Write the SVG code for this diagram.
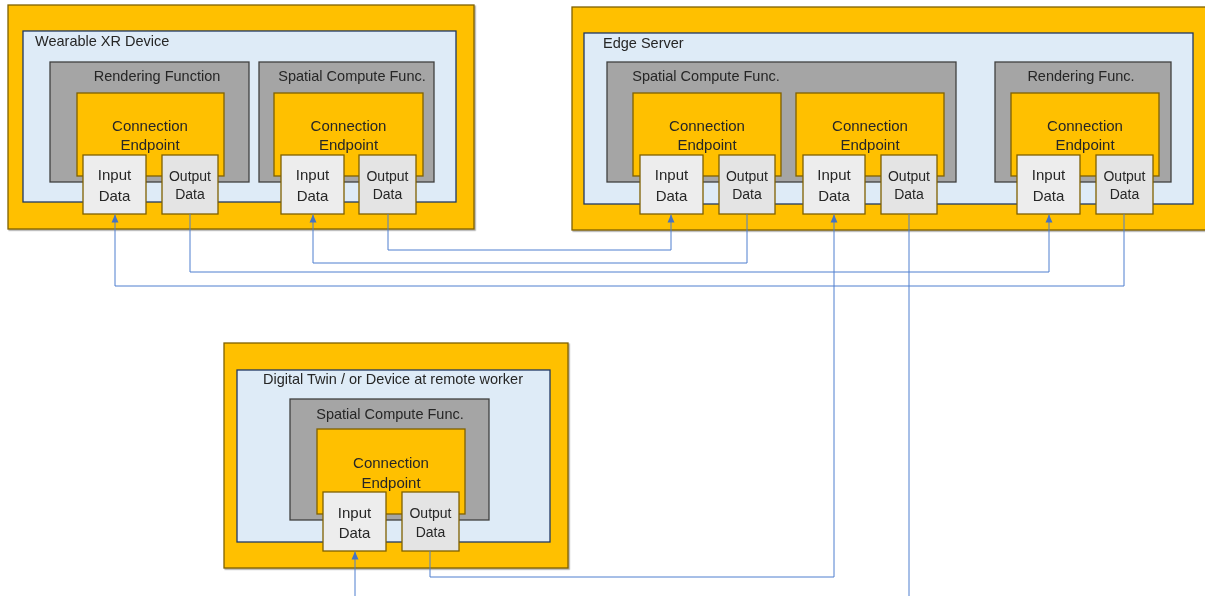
<svg xmlns="http://www.w3.org/2000/svg" width="1205" height="596" viewBox="0 0 1205 596">
<style>
text{font-family:"Liberation Sans",Arial,sans-serif;fill:#262626}
.outer{fill:#FFC000;stroke:#7F6000;stroke-width:1.3}
.dev{fill:#DEEBF7;stroke:#1F3864;stroke-width:1.3}
.func{fill:#A5A5A5;stroke:#404040;stroke-width:1.3}
.ce{fill:#FFC000;stroke:#7F6000;stroke-width:1.3}
.in{fill:#EDEDED;stroke:#7F6000;stroke-width:1.3}
.out{fill:#E4E4E4;stroke:#7F6000;stroke-width:1.3}
.t{font-size:14.5px}
.c{font-size:15px;text-anchor:middle}
.i{font-size:15px;text-anchor:middle}
.o{font-size:14px;text-anchor:middle}
.ln{fill:none;stroke:#4F7FCF;stroke-width:1}
</style>
<defs>
<filter id="sh" x="-5%" y="-5%" width="110%" height="110%">
<feDropShadow dx="1.2" dy="1.2" stdDeviation="0.4" flood-color="#000" flood-opacity="0.35"/>
</filter>
<marker id="arr" markerWidth="8" markerHeight="8" viewBox="0 0 8 8" refX="8" refY="4" orient="auto" markerUnits="userSpaceOnUse">
<path d="M0,0.5 L8,4 L0,7.5 Z" fill="#4472C4"/>
</marker>
</defs>

<g id="wearable" filter="url(#sh)">
<rect class="outer" x="8" y="5" width="466" height="224"/>
<rect class="dev" x="23" y="31" width="433" height="171"/>
<text class="t" x="35" y="46">Wearable XR Device</text>
<g id="w-render">
<rect class="func" x="50" y="62" width="199" height="120"/>
<text class="t" x="157" y="81" text-anchor="middle">Rendering Function</text>
<rect class="ce" x="77" y="93" width="147" height="83"/>
<text class="c" x="150" y="131">Connection</text>
<text class="c" x="150" y="150">Endpoint</text>
<rect class="in" x="83" y="155" width="63" height="59"/>
<text class="i" x="114.5" y="180">Input</text>
<text class="i" x="114.5" y="201">Data</text>
<rect class="out" x="162" y="155" width="56" height="59"/>
<text class="o" x="190" y="181">Output</text>
<text class="o" x="190" y="199">Data</text>
</g>
<g id="w-spatial">
<rect class="func" x="259" y="62" width="175" height="120"/>
<text class="t" x="352" y="81" text-anchor="middle">Spatial Compute Func.</text>
<rect class="ce" x="274" y="93" width="149" height="83"/>
<text class="c" x="348.5" y="131">Connection</text>
<text class="c" x="348.5" y="150">Endpoint</text>
<rect class="in" x="281" y="155" width="63" height="59"/>
<text class="i" x="312.5" y="180">Input</text>
<text class="i" x="312.5" y="201">Data</text>
<rect class="out" x="359" y="155" width="57" height="59"/>
<text class="o" x="387.5" y="181">Output</text>
<text class="o" x="387.5" y="199">Data</text>
</g>
</g>

<g id="edge" filter="url(#sh)">
<rect class="outer" x="572" y="7" width="640" height="223"/>
<rect class="dev" x="584" y="33" width="609" height="171"/>
<text class="t" x="603" y="48">Edge Server</text>
<g id="e-spatial">
<rect class="func" x="607" y="62" width="349" height="120"/>
<text class="t" x="706" y="81" text-anchor="middle">Spatial Compute Func.</text>
<rect class="ce" x="633" y="93" width="148" height="83"/>
<text class="c" x="707" y="131">Connection</text>
<text class="c" x="707" y="150">Endpoint</text>
<rect class="in" x="640" y="155" width="63" height="59"/>
<text class="i" x="671.5" y="180">Input</text>
<text class="i" x="671.5" y="201">Data</text>
<rect class="out" x="719" y="155" width="56" height="59"/>
<text class="o" x="747" y="181">Output</text>
<text class="o" x="747" y="199">Data</text>
<rect class="ce" x="796" y="93" width="148" height="83"/>
<text class="c" x="870" y="131">Connection</text>
<text class="c" x="870" y="150">Endpoint</text>
<rect class="in" x="803" y="155" width="62" height="59"/>
<text class="i" x="834" y="180">Input</text>
<text class="i" x="834" y="201">Data</text>
<rect class="out" x="881" y="155" width="56" height="59"/>
<text class="o" x="909" y="181">Output</text>
<text class="o" x="909" y="199">Data</text>
</g>
<g id="e-render">
<rect class="func" x="995" y="62" width="176" height="120"/>
<text class="t" x="1081" y="81" text-anchor="middle">Rendering Func.</text>
<rect class="ce" x="1011" y="93" width="148" height="83"/>
<text class="c" x="1085" y="131">Connection</text>
<text class="c" x="1085" y="150">Endpoint</text>
<rect class="in" x="1017" y="155" width="63" height="59"/>
<text class="i" x="1048.5" y="180">Input</text>
<text class="i" x="1048.5" y="201">Data</text>
<rect class="out" x="1096" y="155" width="57" height="59"/>
<text class="o" x="1124.5" y="181">Output</text>
<text class="o" x="1124.5" y="199">Data</text>
</g>
</g>

<g id="twin" filter="url(#sh)">
<rect class="outer" x="224" y="343" width="344" height="225"/>
<rect class="dev" x="237" y="370" width="313" height="172"/>
<text class="t" x="393" y="384" text-anchor="middle">Digital Twin / or Device at remote worker</text>
<g id="t-spatial">
<rect class="func" x="290" y="399" width="199" height="121"/>
<text class="t" x="390" y="419" text-anchor="middle">Spatial Compute Func.</text>
<rect class="ce" x="317" y="429" width="148" height="85"/>
<text class="c" x="391" y="468">Connection</text>
<text class="c" x="391" y="488">Endpoint</text>
<rect class="in" x="323" y="492" width="63" height="59"/>
<text class="i" x="354.5" y="518">Input</text>
<text class="i" x="354.5" y="538">Data</text>
<rect class="out" x="402" y="492" width="57" height="59"/>
<text class="o" x="430.5" y="518">Output</text>
<text class="o" x="430.5" y="537">Data</text>
</g>
</g>

<g id="connectors">
<path class="ln" d="M388,214 V250 H671 V214.5" marker-end="url(#arr)"/>
<path class="ln" d="M747,214 V263 H313 V214.5" marker-end="url(#arr)"/>
<path class="ln" d="M190,214 V272 H1049 V214.5" marker-end="url(#arr)"/>
<path class="ln" d="M1124,214 V286 H115 V214.5" marker-end="url(#arr)"/>
<path class="ln" d="M430,551 V577 H834 V214.5" marker-end="url(#arr)"/>
<path class="ln" d="M909,214 V596"/>
<path class="ln" d="M355,596 V551.5" marker-end="url(#arr)"/>
</g>
</svg>
